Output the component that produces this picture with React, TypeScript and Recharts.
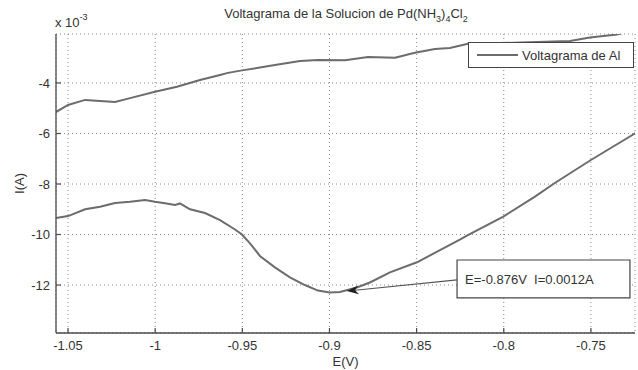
import React from 'react';
import {
  LineChart,
  Line,
  XAxis,
  YAxis,
  CartesianGrid,
  Legend,
  ReferenceArea,
  ReferenceLine,
  Customized,
} from 'recharts';

// barrido directo (rama inferior), E en V, I en mA (x 10^-3 A)
const forwardE = [
  -1.0569, -1.05, -1.0402, -1.0316, -1.023, -1.0144, -1.0058, -1.0001, -0.9944, -0.9886,
  -0.9858, -0.98, -0.9714, -0.9628, -0.9542, -0.9502, -0.9456, -0.9399, -0.9313, -0.9227,
  -0.9141, -0.9066, -0.8998, -0.894, -0.8843, -0.8768, -0.8653, -0.8498, -0.8366, -0.8252,
  -0.8206, -0.8005, -0.7821, -0.7707, -0.75, -0.7248, -0.715,
];
const forwardI = [
  -9.35, -9.27, -9.0, -8.9, -8.75, -8.7, -8.63, -8.7, -8.76, -8.83,
  -8.77, -9.0, -9.15, -9.43, -9.8, -10.0, -10.35, -10.85, -11.3, -11.7,
  -12.0, -12.22, -12.3, -12.28, -12.1, -11.9, -11.5, -11.1, -10.62, -10.2,
  -10.02, -9.3, -8.5, -7.96, -7.05, -6.0, -5.6,
];

// barrido inverso (rama superior)
const reverseE = [
  -0.715, -0.7305, -0.7351, -0.7506, -0.762, -0.79, -0.8206, -0.8309, -0.8395, -0.851,
  -0.8624, -0.8779, -0.8911, -0.9066, -0.9169, -0.9313, -0.9382, -0.9502, -0.9582, -0.9628,
  -0.9743, -0.9875, -1.0001, -1.0144, -1.023, -1.0316, -1.0402, -1.05, -1.0569,
];
const reverseI = [
  -1.7, -2.0, -2.08, -2.2, -2.34, -2.4, -2.45, -2.61, -2.65, -2.8,
  -3.0, -2.97, -3.1, -3.09, -3.13, -3.29, -3.37, -3.5, -3.6, -3.68,
  -3.88, -4.15, -4.35, -4.6, -4.75, -4.71, -4.67, -4.87, -5.15,
];

const xTicks = [-1.05, -1, -0.95, -0.9, -0.85, -0.8, -0.75];
const yTicks = [-12, -10, -8, -6, -4];
const xDomain = [-1.0569, -0.7247];
const yDomain = [-13.9, -2.06];

const seriesName = 'Voltagrama de Al';
const noteText = 'E=-0.876V\u00a0\u00a0I=0.0012A';
// caja y flecha de la anotación, en coordenadas de datos
const noteBox = { x1: -0.8268, x2: -0.7276, y1: -12.51, y2: -11.01 };
const noteArrow = [
  { x: -0.8268, y: -11.8 },
  { x: -0.8901, y: -12.24 },
];

const data = [
  ...forwardE.map((e, k) => ({ e, i: forwardI[k] })),
  ...reverseE.map((e, k) => ({ e, i: reverseI[k] })),
];

const FONT = '"Liberation Sans", Arial, sans-serif';
const LINE_COLOR = '#6c6c6c';
const AXIS_COLOR = '#4a4a4a';
const TICK_LEN = 5;
const GAP = 6;

const fmt = (v: number) => String(v);

// ticks hacia dentro, estilo matlab
const BottomTick = (p: any) => {
  const ay = p.y - GAP;
  return (
    <g>
      <line x1={p.x} x2={p.x} y1={ay} y2={ay - TICK_LEN} stroke={AXIS_COLOR} strokeWidth={1.2} />
      <text x={p.x} y={p.y} dy="0.85em" textAnchor="middle" fontSize={13} fill="#333" fontFamily={FONT}>
        {fmt(p.payload.value)}
      </text>
    </g>
  );
};

const LeftTick = (p: any) => {
  const ax = p.x + GAP;
  return (
    <g>
      <line x1={ax} x2={ax + TICK_LEN} y1={p.y} y2={p.y} stroke={AXIS_COLOR} strokeWidth={1.2} />
      <text x={p.x} y={p.y} dy="0.36em" textAnchor="end" fontSize={13} fill="#333" fontFamily={FONT}>
        {fmt(p.payload.value)}
      </text>
    </g>
  );
};

const TopTick = (p: any) => (
  <line x1={p.x} x2={p.x} y1={p.y} y2={p.y + TICK_LEN} stroke={AXIS_COLOR} strokeWidth={1.2} />
);

const RightTick = (p: any) => (
  <line x1={p.x} x2={p.x - TICK_LEN} y1={p.y} y2={p.y} stroke={AXIS_COLOR} strokeWidth={1.2} />
);

const LegendBox = () => (
  <div
    style={{
      width: 164,
      height: 24,
      border: '1px solid #444',
      background: '#fff',
      display: 'flex',
      alignItems: 'center',
      fontFamily: FONT,
      fontSize: 13,
      color: '#333',
    }}
  >
    <span style={{ display: 'inline-block', width: 41, height: 2, background: LINE_COLOR, marginLeft: 8 }} />
    <span style={{ marginLeft: 4 }}>{seriesName}</span>
  </div>
);

const Arrow = (props: any) => {
  const { x1, y1, x2, y2 } = props;
  const ang = Math.atan2(y2 - y1, x2 - x1);
  const len = 12;
  const w = 4.5;
  const bx = x2 - len * Math.cos(ang);
  const by = y2 - len * Math.sin(ang);
  const nx = -Math.sin(ang);
  const ny = Math.cos(ang);
  const mx = x2 - len * 0.7 * Math.cos(ang);
  const my = y2 - len * 0.7 * Math.sin(ang);
  return (
    <g>
      <line x1={x1} y1={y1} x2={mx} y2={my} stroke="#555" strokeWidth={1.2} />
      <polygon
        points={`${x2},${y2} ${bx + nx * w},${by + ny * w} ${mx},${my} ${bx - nx * w},${by - ny * w}`}
        fill="#222"
      />
    </g>
  );
};

const Titles = () => (
  <g fontFamily={FONT} fill="#333">
    <text x={346} y={18} textAnchor="middle" fontSize={13}>
      Voltagrama de la Solucion de Pd(NH
      <tspan dy={4} fontSize={9}>3</tspan>
      <tspan dy={-4}>)</tspan>
      <tspan dy={4} fontSize={9}>4</tspan>
      <tspan dy={-4}>Cl</tspan>
      <tspan dy={4} fontSize={9}>2</tspan>
    </text>
    <text x={55} y={27} fontSize={13}>
      x 10
      <tspan dy={-7} fontSize={9}>-3</tspan>
    </text>
  </g>
);

export default function App() {
  return (
    <div style={{ position: 'absolute', left: 0, top: 0 }}>
      <LineChart
        width={638}
        height={370}
        data={data}
        margin={{ top: 34, right: 3, bottom: 0, left: 0 }}
        style={{ fontFamily: FONT, background: '#fff' }}
      >
        <CartesianGrid stroke="#8a8a8a" strokeDasharray="1 3" />
        <XAxis
          dataKey="e"
          type="number"
          domain={xDomain}
          allowDataOverflow
          ticks={xTicks}
          height={37}
          tickSize={0}
          tickLine={false}
          tickMargin={GAP}
          tick={BottomTick}
          stroke={AXIS_COLOR}
          strokeWidth={1.3}
          label={{ value: 'E(V)', position: 'insideBottom', offset: 4, fontSize: 13, fill: '#333' }}
        />
        <XAxis
          xAxisId="top"
          orientation="top"
          dataKey="e"
          type="number"
          domain={xDomain}
          allowDataOverflow
          ticks={xTicks}
          height={0}
          tickSize={0}
          tickLine={false}
          tickMargin={0}
          tick={TopTick}
          stroke={AXIS_COLOR}
          strokeWidth={1.3}
        />
        <YAxis
          type="number"
          domain={yDomain}
          allowDataOverflow
          ticks={yTicks}
          width={56}
          tickSize={0}
          tickLine={false}
          tickMargin={GAP}
          tick={LeftTick}
          stroke={AXIS_COLOR}
          strokeWidth={1.3}
          label={{
            value: 'I(A)',
            angle: -90,
            position: 'insideLeft',
            offset: 19,
            fontSize: 13,
            fill: '#333',
            style: { textAnchor: 'middle' },
          }}
        />
        <YAxis
          yAxisId="right"
          orientation="right"
          type="number"
          domain={yDomain}
          allowDataOverflow
          ticks={yTicks}
          width={0}
          tickSize={0}
          tickLine={false}
          tickMargin={0}
          tick={RightTick}
          stroke={AXIS_COLOR}
          strokeWidth={1.3}
        />
        <Line
          dataKey="i"
          name={seriesName}
          type="linear"
          stroke={LINE_COLOR}
          strokeWidth={2}
          dot={false}
          isAnimationActive={false}
        />
        <ReferenceArea
          x1={noteBox.x1}
          x2={noteBox.x2}
          y1={noteBox.y1}
          y2={noteBox.y2}
          fill="#fff"
          fillOpacity={1}
          stroke="#444"
          strokeWidth={1.2}
          label={{ value: noteText, position: 'insideLeft', offset: 8, fontSize: 13, fill: '#333' }}
        />
        <ReferenceLine segment={noteArrow} shape={Arrow} />
        <Legend
          layout="horizontal"
          verticalAlign="middle"
          align="center"
          content={LegendBox}
          wrapperStyle={{ left: 468, top: 42, width: 166 }}
        />
        <Customized component={Titles} />
      </LineChart>
    </div>
  );
}
